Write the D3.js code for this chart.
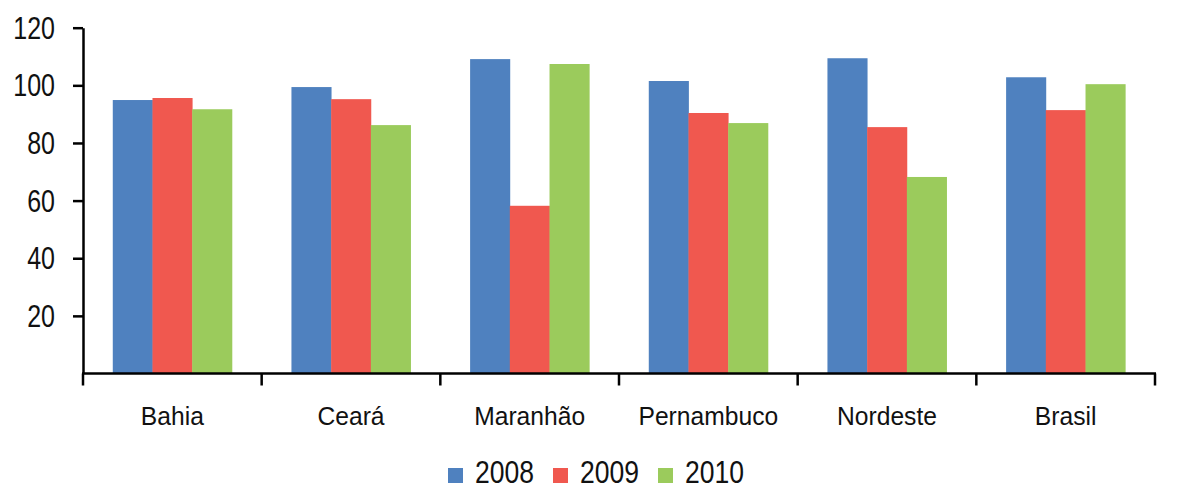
<!DOCTYPE html>
<html>
<head>
<meta charset="utf-8">
<script src="https://cdn.jsdelivr.net/npm/d3@7"></script>
<style>
  body { margin: 0; background: #fff; }
  svg text { font-family: "Liberation Sans", Arial, sans-serif; fill: #111; }
</style>
</head>
<body>
<svg id="chart" width="1177" height="486"></svg>
<script>
// data
const categories = ['Bahia', 'Ceará', 'Maranhão', 'Pernambuco', 'Nordeste', 'Brasil'];
const seriesNames = ['2008', '2009', '2010'];
const values2008 = [94.9, 99.4, 109.1, 101.5, 109.4, 102.8];
const values2009 = [95.6, 95.2, 58.2, 90.4, 85.5, 91.4];
const values2010 = [91.7, 86.2, 107.4, 86.9, 68.2, 100.4];
const yTicks = [20, 40, 60, 80, 100, 120];
const colors = ['#4F81BF', '#F0584F', '#9BCB5C'];

const allValues = [values2008, values2009, values2010];

// no condensed font installed, so the sans gets squeezed a bit
const narrowDigits = 0.82;
const narrowLabels = 0.93;
const narrowLegend = 0.87;

let svg = d3.select('#chart');

let x = d3.scaleBand()
  .domain(categories)
  .range([83, 1155])
  .paddingInner(0)
  .paddingOuter(0);

// bars inside a group, excel style gap (150%)
let xs = d3.scaleBand()
  .domain(seriesNames)
  .range([0, x.bandwidth()])
  .paddingInner(0)
  .paddingOuter(0.75);

let y = d3.scaleLinear()
  .domain([0, 120])
  .range([373.5, 27.7]);

// bars
let groups = svg.selectAll('g.group')
  .data(categories)
  .enter().append('g')
  .attr('class', 'group')
  .attr('transform', d => 'translate(' + x(d) + ',0)');

groups.selectAll('rect')
  .data((d, i) => seriesNames.map((s, j) => ({ series: s, value: allValues[j][i], j: j })))
  .enter().append('rect')
  .attr('x', d => xs(d.series))
  .attr('width', xs.bandwidth() + 0.4)
  .attr('y', d => y(d.value))
  .attr('height', d => y(0) - y(d.value))
  .attr('fill', d => colors[d.j]);

// y axis
let yAxis = svg.append('g')
  .attr('transform', 'translate(83,0)')
  .call(d3.axisLeft(y).tickValues(yTicks).tickSize(10).tickSizeOuter(0).tickFormat(''));

yAxis.select('.domain').attr('stroke', '#000').attr('stroke-width', 2.5);
yAxis.selectAll('.tick line').attr('stroke', '#000').attr('stroke-width', 2.5);

svg.selectAll('text.ytick')
  .data(yTicks)
  .enter().append('text')
  .attr('class', 'ytick')
  .attr('transform', d => 'translate(55,' + (y(d) + 11) + ') scale(' + narrowDigits + ',1)')
  .attr('text-anchor', 'end')
  .attr('font-size', 30.5)
  .text(d => d);

// x axis
let edges = categories.map(c => x(c)).concat([x.range()[1]]);
let xAxisG = svg.append('g');

xAxisG.append('line')
  .attr('x1', x.range()[0] - 1)
  .attr('x2', x.range()[1] + 1)
  .attr('y1', y(0))
  .attr('y2', y(0))
  .attr('stroke', '#000')
  .attr('stroke-width', 2.5);

xAxisG.selectAll('line.xtick')
  .data(edges)
  .enter().append('line')
  .attr('class', 'xtick')
  .attr('x1', d => d)
  .attr('x2', d => d)
  .attr('y1', y(0))
  .attr('y2', y(0) + 12)
  .attr('stroke', '#000')
  .attr('stroke-width', 2.5);

xAxisG.selectAll('text.xlabel')
  .data(categories)
  .enter().append('text')
  .attr('class', 'xlabel')
  .attr('transform', d => 'translate(' + (x(d) + x.bandwidth() / 2) + ',425) scale(' + narrowLabels + ',1)')
  .attr('text-anchor', 'middle')
  .attr('font-size', 26.5)
  .text(d => d);

// legend
let legend = svg.append('g')
  .attr('transform', 'translate(448,0)');

let item = legend.selectAll('g.item')
  .data(seriesNames)
  .enter().append('g')
  .attr('class', 'item')
  .attr('transform', (d, i) => 'translate(' + (i * 105) + ',0)');

item.append('rect')
  .attr('x', 0)
  .attr('y', 468)
  .attr('width', 15)
  .attr('height', 15)
  .attr('fill', (d, i) => colors[i]);

item.append('text')
  .attr('transform', 'translate(27,483) scale(' + narrowLegend + ',1)')
  .attr('font-size', 30.5)
  .text(d => d);
</script>
</body>
</html>
